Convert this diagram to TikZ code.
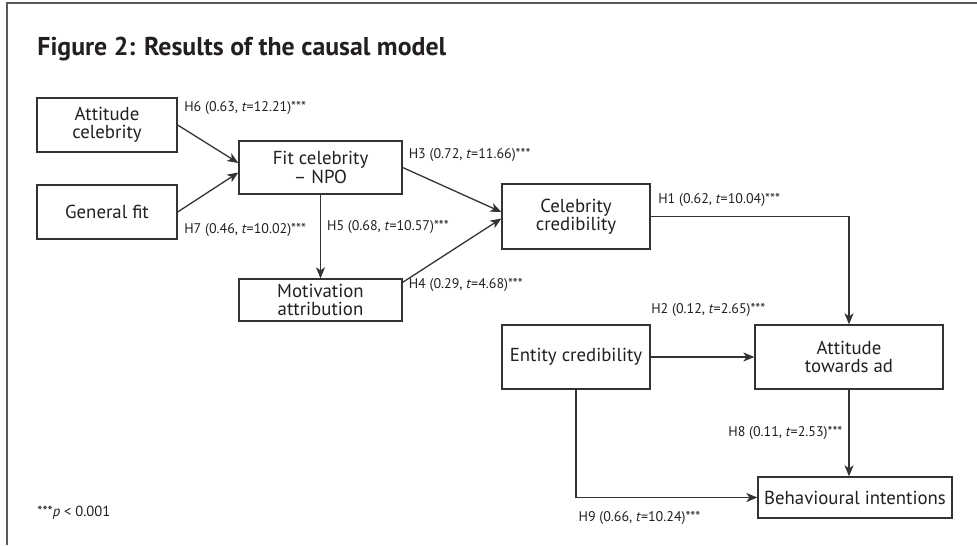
\documentclass[tikz,border=0pt]{standalone}
\usepackage{fontspec}
\setmainfont{PT Sans}
\usetikzlibrary{arrows.meta,positioning}

\definecolor{inkc}{HTML}{231F20}
\definecolor{linec}{HTML}{333333}
\definecolor{framec}{HTML}{595959}

\tikzset{
  box/.style={draw=linec, line width=0.65pt, align=center, inner sep=0pt,
    text=inkc, font=\fontsize{9.4}{9.2}\selectfont},
  lbl/.style={inner sep=0pt, text=inkc, font=\fontsize{7}{8}\selectfont},
  heading/.style={inner sep=0pt, anchor=base west, text=inkc,
    font=\fontsize{12.9}{16}\selectfont\bfseries},
  link/.style={color=linec, line width=0.65pt,
    -{Stealth[length=5.5pt,width=4.5pt,inset=1.5pt]}}
}

\begin{document}
\begin{tikzpicture}[x=0.5pt,y=-0.5pt,on grid]
  \useasboundingbox (0,0) rectangle (977,545);
  \draw[framec,line width=1pt] (977,3.5) -- (7,3.5) -- (7,545);
  \node[heading] (title) at (37,56) {Figure 2: Results of the causal model};

  \path
  node[box,minimum width=70pt,minimum height=27pt] (attcel) at (107,125) {Attitude\\celebrity}
  node[box,minimum width=70pt,minimum height=27pt] (genfit) [below=43.5pt of attcel] {General fit}
  node[box,minimum width=81.5pt,minimum height=26.5pt] (fitnpo) [below right=21.25pt and 106.75pt of attcel] {Fit celebrity\\\textendash\ NPO}
  node[box,minimum width=81.5pt,minimum height=21pt] (motattr) [below=66.25pt of fitnpo] {Motivation\\attribution}
  node[box,minimum width=74pt,minimum height=32.5pt] (celcred) [below right=24.5pt and 127.75pt of fitnpo] {Celebrity\\credibility}
  node[box,minimum width=74pt,minimum height=32pt] (entcred) [below=70.25pt of celcred] {Entity credibility}
  node[box,minimum width=94pt,minimum height=32pt] (attad) [right=136.5pt of entcred] {Attitude\\towards ad}
  node[box,minimum width=97pt,minimum height=20.5pt] (behint) [below right=70.25pt and 3pt of attad] {Behavioural intentions}
  ;

  \path[link]
  (attcel.east) edge node[lbl,at start,anchor=west,shift={(3pt,8.5pt)}] {H6 (0.63, \textit{t}=12.21)***} ([yshift=2.25pt]fitnpo.west)
  (genfit.east) edge node[lbl,at start,anchor=west,shift={(3pt,-9pt)}] {H7 (0.46, \textit{t}=10.02)***} ([yshift=-2.5pt]fitnpo.west)
  (fitnpo.south) edge node[lbl,midway,anchor=west,shift={(3pt,4.75pt)}] {H5 (0.68, \textit{t}=10.57)***} (motattr.north)
  (fitnpo.east) edge node[lbl,at start,anchor=west,shift={(2.75pt,6.25pt)}] {H3 (0.72, \textit{t}=11.66)***} ([yshift=2.25pt]celcred.west)
  ([yshift=-2pt]motattr.north east) edge node[lbl,at start,anchor=west,shift={(2.75pt,-1.5pt)}] {H4 (0.29, \textit{t}=4.68)***} ([yshift=-1pt]celcred.west)
  (entcred.east) edge node[lbl,at start,anchor=west,shift={(0pt,23.5pt)}] {H2 (0.12, \textit{t}=2.65)***} (attad.west)
  ;
  \draw[link] (celcred.east) -| node[lbl,pos=0,anchor=west,shift={(3.5pt,8.25pt)}] {H1 (0.62, \textit{t}=10.04)***} (attad.north);
  \draw[link] (attad.south) -- node[lbl,midway,anchor=east,shift={(-3pt,0pt)}] {H8 (0.11, \textit{t}=2.53)***} (attad.south |- behint.north);
  \draw[link] (entcred.south) |- node[lbl,pos=0.5,anchor=west,shift={(1pt,-10.5pt)}] {H9 (0.66, \textit{t}=10.24)***} (behint.west);

  \node[lbl,anchor=west,font=\fontsize{7.3}{8}\selectfont] (note) at (37,513) {***\textit{p} < 0.001};
\end{tikzpicture}
\end{document}
